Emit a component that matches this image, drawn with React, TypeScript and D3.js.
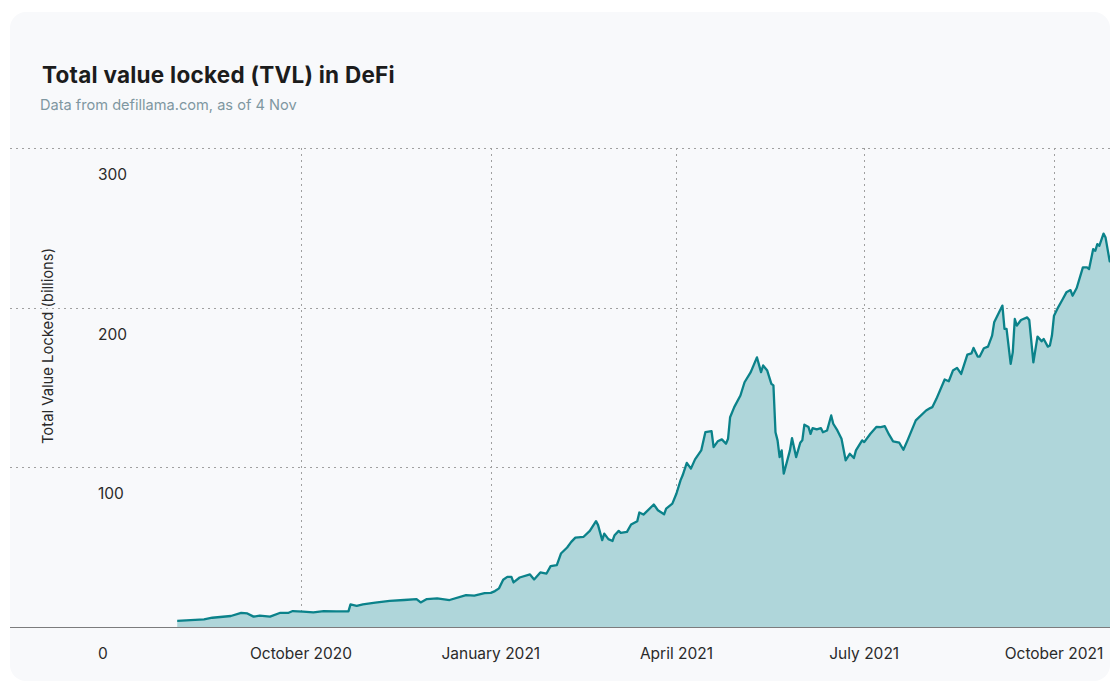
import React, { useEffect, useRef } from "react";
import * as d3 from "d3";

const width = 1110;
const height = 682;

const dates = [
  "2020-08-02", "2020-08-15", "2020-08-19", "2020-08-28", "2020-09-02", "2020-09-05", "2020-09-08",
  "2020-09-11", "2020-09-16", "2020-09-21", "2020-09-25", "2020-09-27", "2020-10-02", "2020-10-07",
  "2020-10-12", "2020-10-18", "2020-10-24", "2020-10-25", "2020-10-28", "2020-10-31", "2020-11-06",
  "2020-11-13", "2020-11-20", "2020-11-26", "2020-11-28", "2020-12-01", "2020-12-06", "2020-12-12",
  "2020-12-20", "2020-12-24", "2020-12-29", "2021-01-01", "2021-01-03", "2021-01-05", "2021-01-07",
  "2021-01-09", "2021-01-11", "2021-01-12", "2021-01-15", "2021-01-20", "2021-01-22", "2021-01-25",
  "2021-01-28", "2021-01-30", "2021-02-02", "2021-02-04", "2021-02-07", "2021-02-09", "2021-02-11",
  "2021-02-15", "2021-02-18", "2021-02-21", "2021-02-22", "2021-02-24", "2021-02-25", "2021-02-27",
  "2021-03-01", "2021-03-02", "2021-03-04", "2021-03-05", "2021-03-08", "2021-03-10", "2021-03-13",
  "2021-03-14", "2021-03-16", "2021-03-21", "2021-03-23", "2021-03-26", "2021-03-27", "2021-03-30",
  "2021-04-01", "2021-04-03", "2021-04-04", "2021-04-06", "2021-04-08", "2021-04-10", "2021-04-13",
  "2021-04-15", "2021-04-18", "2021-04-19", "2021-04-21", "2021-04-23", "2021-04-25", "2021-04-26",
  "2021-04-27", "2021-04-29", "2021-05-02", "2021-05-04", "2021-05-07", "2021-05-10", "2021-05-12",
  "2021-05-13", "2021-05-15", "2021-05-17", "2021-05-18", "2021-05-19", "2021-05-20", "2021-05-21",
  "2021-05-22", "2021-05-23", "2021-05-26", "2021-05-27", "2021-05-29", "2021-05-31", "2021-06-01",
  "2021-06-02", "2021-06-04", "2021-06-05", "2021-06-06", "2021-06-08", "2021-06-10", "2021-06-11",
  "2021-06-13", "2021-06-15", "2021-06-16", "2021-06-18", "2021-06-20", "2021-06-22", "2021-06-24",
  "2021-06-26", "2021-06-27", "2021-06-30", "2021-07-01", "2021-07-04", "2021-07-07", "2021-07-09",
  "2021-07-11", "2021-07-13", "2021-07-15", "2021-07-18", "2021-07-20", "2021-07-22", "2021-07-26",
  "2021-07-31", "2021-08-02", "2021-08-03", "2021-08-05", "2021-08-09", "2021-08-11", "2021-08-13",
  "2021-08-15", "2021-08-17", "2021-08-20", "2021-08-22", "2021-08-23", "2021-08-25", "2021-08-26",
  "2021-08-28", "2021-08-30", "2021-09-01", "2021-09-02", "2021-09-06", "2021-09-07", "2021-09-08",
  "2021-09-10", "2021-09-11", "2021-09-12", "2021-09-13", "2021-09-15", "2021-09-18", "2021-09-19",
  "2021-09-21", "2021-09-23", "2021-09-25", "2021-09-26", "2021-09-28", "2021-09-29", "2021-09-30",
  "2021-10-01", "2021-10-03", "2021-10-05", "2021-10-07", "2021-10-09", "2021-10-10", "2021-10-12",
  "2021-10-15", "2021-10-17", "2021-10-18", "2021-10-20", "2021-10-21", "2021-10-22", "2021-10-23",
  "2021-10-25", "2021-10-26", "2021-10-28", "2021-10-30", "2021-11-02", "2021-11-04",
];

// TVL in billions USD
const tvl = [
  3.8, 4.8, 5.8, 6.9, 8.9, 8.5, 6.5,
  7.1, 6.5, 8.9, 8.9, 10, 9.6, 9.2,
  10, 9.8, 9.8, 14.2, 13.3, 14.2, 15.2,
  16.4, 16.9, 17.5, 15.4, 17.5, 17.9, 16.9,
  20, 19.6, 21.2, 21.4, 22.5, 24.2, 29.6,
  31.4, 31.4, 27.9, 31, 32.9, 29.8, 34.2,
  33.5, 38.1, 38.8, 46, 49.8, 53.3, 56,
  56.5, 60.2, 66.3, 63.8, 54.4, 58.5, 55,
  53.9, 57.5, 60.2, 59, 59.6, 64.2, 66.3,
  71.7, 70.4, 76.7, 73.1, 70.6, 74.2, 77.3,
  83.6, 92, 95, 102.8, 99.2, 105, 110.6,
  122, 122.7, 112.7, 116.3, 117.5, 114.8, 117.9,
  131.4, 137.7, 145, 153.3, 159.6, 168.9, 159.6,
  163.8, 160.6, 152.3, 151.3, 122, 116.9, 106.4,
  110.6, 96, 110.6, 118.3, 106.4, 115.4, 116.9,
  126.7, 125.2, 121, 124.6, 123.8, 124.6, 122,
  123.1, 132.5, 127.3, 123.1, 117.9, 104.4, 108.5,
  105.8, 110.6, 116.9, 115.8, 121, 125.4, 125.2,
  125.8, 120.6, 116.3, 115.4, 111, 116.9, 129.4,
  135.6, 137.1, 137.7, 142.9, 155, 153.9, 160.6,
  162.3, 158.5, 170.6, 171.4, 174.8, 169.4, 169.4,
  174.6, 175.6, 182.5, 190.8, 201.3, 186.7, 186.7,
  164.8, 172, 192.9, 188.8, 192.3, 193.9, 192.3,
  165.8, 181.9, 178.9, 180.4, 175.6, 176.3, 182.5,
  195, 200.2, 204.8, 209.6, 211, 207.5, 212.3,
  225.2, 225.2, 224.2, 236.7, 235.6, 239.8, 238.8,
  246.4, 243.9, 229, 232, 240, 238,
];

const yTicks = [0, 100, 200, 300];
const xTicks = ["2020-10-01", "2021-01-01", "2021-04-01", "2021-07-01", "2021-10-01"];

const parse = d3.timeParse("%Y-%m-%d");
const font = "Inter, 'DejaVu Sans', sans-serif";

const App = () => {
  const ref = useRef<SVGSVGElement>(null);

  useEffect(() => {
    const svg = d3.select(ref.current);
    svg.selectAll("*").remove();

    const data = dates.map((d, i) => ({ date: parse(d) as Date, value: tvl[i] }));

    const x = d3
      .scaleTime()
      .domain([parse(xTicks[0]) as Date, parse(xTicks[4]) as Date])
      .range([301, 1054]);
    const y = d3.scaleLinear().domain([0, 300]).range([627, 148]);

    svg
      .append("rect")
      .attr("width", width)
      .attr("height", height)
      .attr("fill", "#ffffff");

    svg
      .append("defs")
      .append("clipPath")
      .attr("id", "card-clip")
      .append("rect")
      .attr("x", 10)
      .attr("y", 12)
      .attr("width", 1100)
      .attr("height", 669)
      .attr("rx", 16);

    svg
      .append("rect")
      .attr("x", 10)
      .attr("y", 12)
      .attr("width", 1100)
      .attr("height", 669)
      .attr("rx", 16)
      .attr("fill", "#f8f9fb");

    const g = svg.append("g").attr("clip-path", "url(#card-clip)");

    svg
      .append("text")
      .attr("x", 42)
      .attr("y", 83)
      .attr("font-family", font)
      .attr("font-size", 22.5)
      .attr("font-weight", 700)
      .attr("letter-spacing", 0.25)
      .attr("fill", "#1c1c1c")
      .text("Total value locked (TVL) in DeFi");

    svg
      .append("text")
      .attr("x", 40)
      .attr("y", 110)
      .attr("font-family", font)
      .attr("font-size", 14.6)
      .attr("fill", "#7f97a1")
      .text("Data from defillama.com, as of 4 Nov");

    // horizontal grid
    g.append("g")
      .selectAll("line")
      .data(yTicks.filter((t) => t > 0))
      .join("line")
      .attr("x1", 10)
      .attr("x2", width)
      .attr("y1", (d) => Math.round(y(d)) + 0.5)
      .attr("y2", (d) => Math.round(y(d)) + 0.5)
      .attr("stroke", "#a0a0a0")
      .attr("stroke-dasharray", "2 4");

    // vertical grid
    g.append("g")
      .selectAll("line")
      .data(xTicks)
      .join("line")
      .attr("x1", (d) => Math.round(x(parse(d) as Date)) + 0.5)
      .attr("x2", (d) => Math.round(x(parse(d) as Date)) + 0.5)
      .attr("y1", y(300))
      .attr("y2", y(0))
      .attr("stroke", "#a0a0a0")
      .attr("stroke-dasharray", "2 4");

    const area = d3
      .area<{ date: Date; value: number }>()
      .x((d) => x(d.date))
      .y0(y(0))
      .y1((d) => y(d.value));
    const line = d3
      .line<{ date: Date; value: number }>()
      .x((d) => x(d.date))
      .y((d) => y(d.value));

    g.append("path").datum(data).attr("d", area).attr("fill", "#afd6da");
    g.append("path")
      .datum(data)
      .attr("d", line)
      .attr("fill", "none")
      .attr("stroke", "#0b828a")
      .attr("stroke-width", 2.3)
      .attr("stroke-linejoin", "round");

    // baseline
    g.append("line")
      .attr("x1", 10)
      .attr("x2", width)
      .attr("y1", y(0) + 0.5)
      .attr("y2", y(0) + 0.5)
      .attr("stroke", "rgba(0,0,0,0.5)")
      .attr("stroke-width", 1.2);

    // y tick labels (placed below their gridline)
    g.append("g")
      .selectAll("text")
      .data(yTicks)
      .join("text")
      .attr("x", 98)
      .attr("y", (d) => y(d) + 26.5)
      .attr("dy", "0.35em")
      .attr("text-anchor", "start")
      .attr("font-family", font)
      .attr("font-size", 15.5)
      .attr("fill", "#2a2a2a")
      .text((d) => d);

    // x tick labels
    g.append("g")
      .selectAll("text")
      .data(xTicks)
      .join("text")
      .attr("x", (d) => x(parse(d) as Date))
      .attr("y", y(0) + 26.5)
      .attr("dy", "0.35em")
      .attr("text-anchor", "middle")
      .attr("font-family", font)
      .attr("font-size", 15.5)
      .attr("fill", "#2a2a2a")
      .text((d) => d3.timeFormat("%B %Y")(parse(d) as Date));

    svg
      .append("text")
      .attr("transform", `translate(48, 346) rotate(-90)`)
      .attr("text-anchor", "middle")
      .attr("dy", "0.35em")
      .attr("font-family", font)
      .attr("font-size", 14.8)
      .attr("fill", "#2a2a2a")
      .text("Total Value Locked (billions)");
  }, []);

  return (
    <svg
      ref={ref}
      width={width}
      height={height}
      style={{ position: "absolute", left: 0, top: 0, display: "block" }}
    />
  );
};

export default App;
